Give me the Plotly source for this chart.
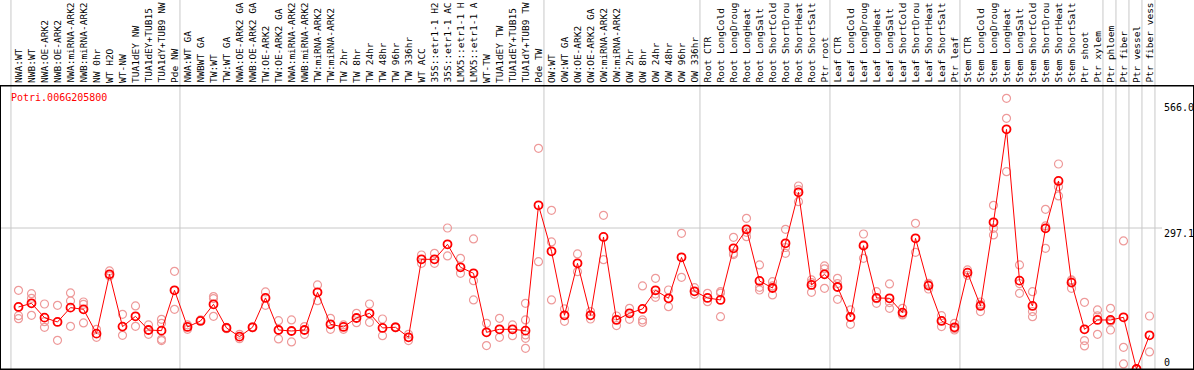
import plotly.graph_objects as go

gene_id = "Potri.006G205800"

# sample labels as they appear in the header (long names are cut at 14 characters there)
categories = [
    "NWA:WT", "NWB:WT", "NWA:OE-ARK2", "NWB:OE-ARK2", "NWA:miRNA-ARK2", "NWB:miRNA-ARK2",
    "NW 0hr", "WT H2O", "WT-NW", "TUA1dEY NW", "TUA1dEY+TUB15", "TUA1dY+TUB9 NW", "Pde NW",
    "NWA:WT GA", "NWBWT GA", "TW:WT", "TW:WT GA", "NWA:OE-ARK2 GA", "NWB:OE-ARK2 GA",
    "TW:OE-ARK2", "TW:OE-ARK2 GA", "NWA:miRNA-ARK2", "NWB:miRNA-ARK2", "TW:miRNA-ARK2",
    "TW:miRNA-ARK2", "TW 2hr", "TW 8hr", "TW 24hr", "TW 48hr", "TW 96hr", "TW 336hr",
    "WT ACC", "35S::etr1-1 H2", "35S::etr1-1 AC", "LMX5::etr1-1 H", "LMX5::etr1-1 A",
    "WT-TW", "TUA1dEY TW", "TUA1dEY+TUB15", "TUA1dY+TUB9 TW", "Pde TW",
    "OW:WT", "OW:WT GA", "OW:OE-ARK2", "OW:OE-ARK2 GA", "OW:miRNA-ARK2", "OW:miRNA-ARK2",
    "OW 2hr", "OW 8hr", "OW 24hr", "OW 48hr", "OW 96hr", "OW 336hr",
    "Root CTR", "Root LongCold", "Root LongDroug", "Root LongHeat", "Root LongSalt",
    "Root ShortCold", "Root ShortDrou", "Root ShortHeat", "Root ShortSalt", "Ptr root",
    "Leaf CTR", "Leaf LongCold", "Leaf LongDroug", "Leaf LongHeat", "Leaf LongSalt",
    "Leaf ShortCold", "Leaf ShortDrou", "Leaf ShortHeat", "Leaf ShortSalt", "Ptr leaf",
    "Stem CTR", "Stem LongCold", "Stem LongDroug", "Stem LongHeat", "Stem LongSalt",
    "Stem ShortCold", "Stem ShortDrou", "Stem ShortHeat", "Stem ShortSalt",
    "Ptr shoot", "Ptr xylem", "Ptr phloem", "Ptr fiber", "Ptr vessel", "Ptr fiber vess",
]

means = [
    130.7, 138.4, 108.2, 99.1, 129.3, 125.8, 74.5, 199.5, 89.3, 111.0, 82.2, 80.8, 165.8,
    88.6, 101.2, 136.3, 86.5, 68.2, 87.9, 149.7, 82.2, 80.1, 82.2, 161.6, 94.2, 88.6, 107.5,
    117.4, 86.5, 87.9, 66.8, 231.1, 231.1, 262.7, 214.3, 201.6, 77.3, 83.6, 83.6, 80.8, 344.9,
    248.0, 113.1, 222.7, 113.1, 278.2, 103.3, 117.4, 126.5, 165.8, 149.0, 235.3, 163.7,
    149.7, 145.5, 254.3, 294.3, 185.5, 170.7, 264.8, 372.3, 177.1, 199.5,
    172.8, 109.6, 259.9, 149.7, 149.0, 118.8, 275.4, 175.7, 101.2, 87.9,
    203.0, 132.8, 309.1, 505.0, 186.2, 132.8, 296.4, 396.2, 182.0,
    83.6, 103.3, 103.3, 108.9, 0.0, 71.0,
]

replicates = [
    [165.8, 112.4, 106.1], [158.8, 148.9, 113.1], [137.0, 99.8, 87.9], [134.2, 60.5],
    [160.2, 143.3, 90.0], [141.2, 136.3, 97.0], [83.6, 66.8], [206.6, 196.0],
    [115.2, 71.0], [132.8, 90.0], [92.8, 73.1], [104.7, 96.3, 62.6, 59.8], [205.8, 125.8],
    [92.8, 83.6], [103.3], [152.5, 148.3, 111.0], [88.0, 85.0], [73.1, 64.0], [89.0, 87.0],
    [162.3, 134.2], [101.9, 63.3], [103.3, 57.0], [89.3, 73.1], [177.1, 144.0],
    [106.8, 83.6], [92.8, 83.6], [117.4, 97.7], [137.0, 98.4], [105.4, 70.3], [89.0, 87.0],
    [73.1, 59.8], [240.2, 222.7], [243.8, 222.7], [297.1, 238.2], [233.3, 201.6],
    [274.0, 186.2, 145.5], [96.3, 49.3], [106.8, 66.8], [92.8, 70.3],
    [138.4, 103.3, 71.7, 64.7, 43.6], [465.0, 226.2],
    [334.4, 267.7, 145.5], [126.5, 100.5], [242.4, 205.1], [120.9, 105.4], [323.8, 230.4],
    [111.7, 91.4], [127.9, 104.7], [175.0, 103.3, 98.4], [191.1, 158.0, 151.1],
    [166.5, 131.4], [285.9, 193.2], [171.4, 157.4],
    [159.5, 141.9], [163.0, 160.0, 110.3], [277.5, 243.8, 241.0], [317.5, 278.9, 288.0],
    [219.2, 166.5, 172.0], [184.1, 156.0, 175.0], [294.3, 243.8, 256.0],
    [385.6, 352.6, 378.0], [187.6, 161.6, 182.0], [217.1, 170.0, 211.0],
    [191.1, 146.9, 180.0], [124.4, 94.2], [284.5, 233.3, 262.0], [163.0, 138.4, 148.0],
    [179.2, 127.9, 140.0], [127.9, 113.8, 115.0], [307.0, 245.9], [180.6, 168.6, 178.0],
    [112.4, 89.3, 102.0], [96.3, 82.2, 85.0],
    [208.7, 197.4], [141.2, 120.9, 136.0], [344.9, 296.4, 282.4], [570.3, 528.2, 415.8],
    [219.2, 159.5, 180.0], [163.0, 120.9, 110.3], [336.5, 301.4, 254.3],
    [432.0, 384.2, 364.6], [187.6, 170.0, 186.0],
    [140.5, 59.8, 48.6], [124.4, 73.1, 112.0], [127.9, 82.2, 100.0], [269.8, 45.7, 10.6],
    [0.0, 0.0], [111.7, 35.9],
]

# first category index of each sample group (last entry closes the final group)
group_starts = [0, 13, 41, 53, 63, 73, 84, 85, 86, 87, 88]
y_tick_labels = ["566.0", "297.1", "0"]
grid_value = 297.1

# ---------------- layout geometry ----------------
W, H = 1194, 370
L, R, T, B = 1, 1, 86, 1
plot_w = W - L - R
plot_h = H - T - B
step_px = 13.0
first_px = 18.5
x_lo = -(first_px - L) / step_px
x_hi = x_lo + plot_w / step_px
y_max = 596.3

def paper_x(px):
    return (px - L) / plot_w

def paper_y(py):
    return (H - B - py) / plot_h

mono = "DejaVu Sans Mono"
x_idx = list(range(len(categories)))
rep_x = [i for i, reps in enumerate(replicates) for _ in reps]
rep_y = [v for reps in replicates for v in reps]

fig = go.Figure()
fig.add_trace(go.Scatter(
    x=rep_x, y=rep_y, mode="markers",
    marker=dict(symbol="circle-open", size=8, color="#ee9a9a", line=dict(width=1.2)),
    hoverinfo="skip", showlegend=False,
))
fig.add_trace(go.Scatter(
    x=x_idx, y=means, mode="lines+markers",
    line=dict(color="#ff0000", width=1),
    marker=dict(symbol="circle-open", size=8, color="#ff0000", line=dict(width=1.8)),
    text=categories, showlegend=False,
))

shapes = []
for s in group_starts:
    shapes.append(dict(type="line", xref="x", yref="paper", x0=s - 0.58, x1=s - 0.58,
                       y0=0, y1=paper_y(0), line=dict(color="#c8c8c8", width=1), layer="below"))
shapes.append(dict(type="line", xref="paper", yref="y", x0=0, x1=paper_x(1162),
                   y0=grid_value, y1=grid_value, line=dict(color="#c8c8c8", width=1), layer="below"))
# header separator and bottom rule across full width
shapes.append(dict(type="line", xref="paper", yref="paper", x0=paper_x(0), x1=paper_x(W),
                   y0=1, y1=1, line=dict(color="black", width=1)))
shapes.append(dict(type="line", xref="paper", yref="paper", x0=paper_x(0), x1=paper_x(W),
                   y0=0, y1=0, line=dict(color="black", width=1)))

annotations = []
for i, c in enumerate(categories):
    annotations.append(dict(x=i, xref="x", y=paper_y(84), yref="paper", text=c,
                            textangle=-90, xanchor="center", yanchor="bottom", borderpad=0,
                            showarrow=False, font=dict(family=mono, size=9.5, color="black")))
annotations.append(dict(x=paper_x(9), xref="paper", y=paper_y(97), yref="paper", text=gene_id,
                        xanchor="left", yanchor="middle", showarrow=False,
                        font=dict(family=mono, size=10, color="#ff0000")))
tick_py = [107, 233, 362]
for lab, py in zip(y_tick_labels, tick_py):
    annotations.append(dict(x=paper_x(1162), xref="paper", y=paper_y(py), yref="paper", text=lab,
                            xanchor="left", yanchor="middle", showarrow=False,
                            font=dict(family=mono, size=10, color="black")))

fig.update_layout(
    width=W, height=H, margin=dict(l=L, r=R, t=T, b=B, pad=0),
    paper_bgcolor="white", plot_bgcolor="white",
    xaxis=dict(range=[x_lo, x_hi], showgrid=False, zeroline=False, showticklabels=False,
               ticks="", showline=True, mirror=True, linecolor="black", linewidth=1),
    yaxis=dict(range=[0, y_max], showgrid=False, zeroline=False, showticklabels=False,
               ticks="", showline=True, mirror=True, linecolor="black", linewidth=1),
    shapes=shapes, annotations=annotations, showlegend=False,
    font=dict(family=mono, size=10),
)
fig.write_html("out.html", config={"displayModeBar": False},
               post_script="document.body.style.margin='0';document.body.style.overflow='hidden';")
